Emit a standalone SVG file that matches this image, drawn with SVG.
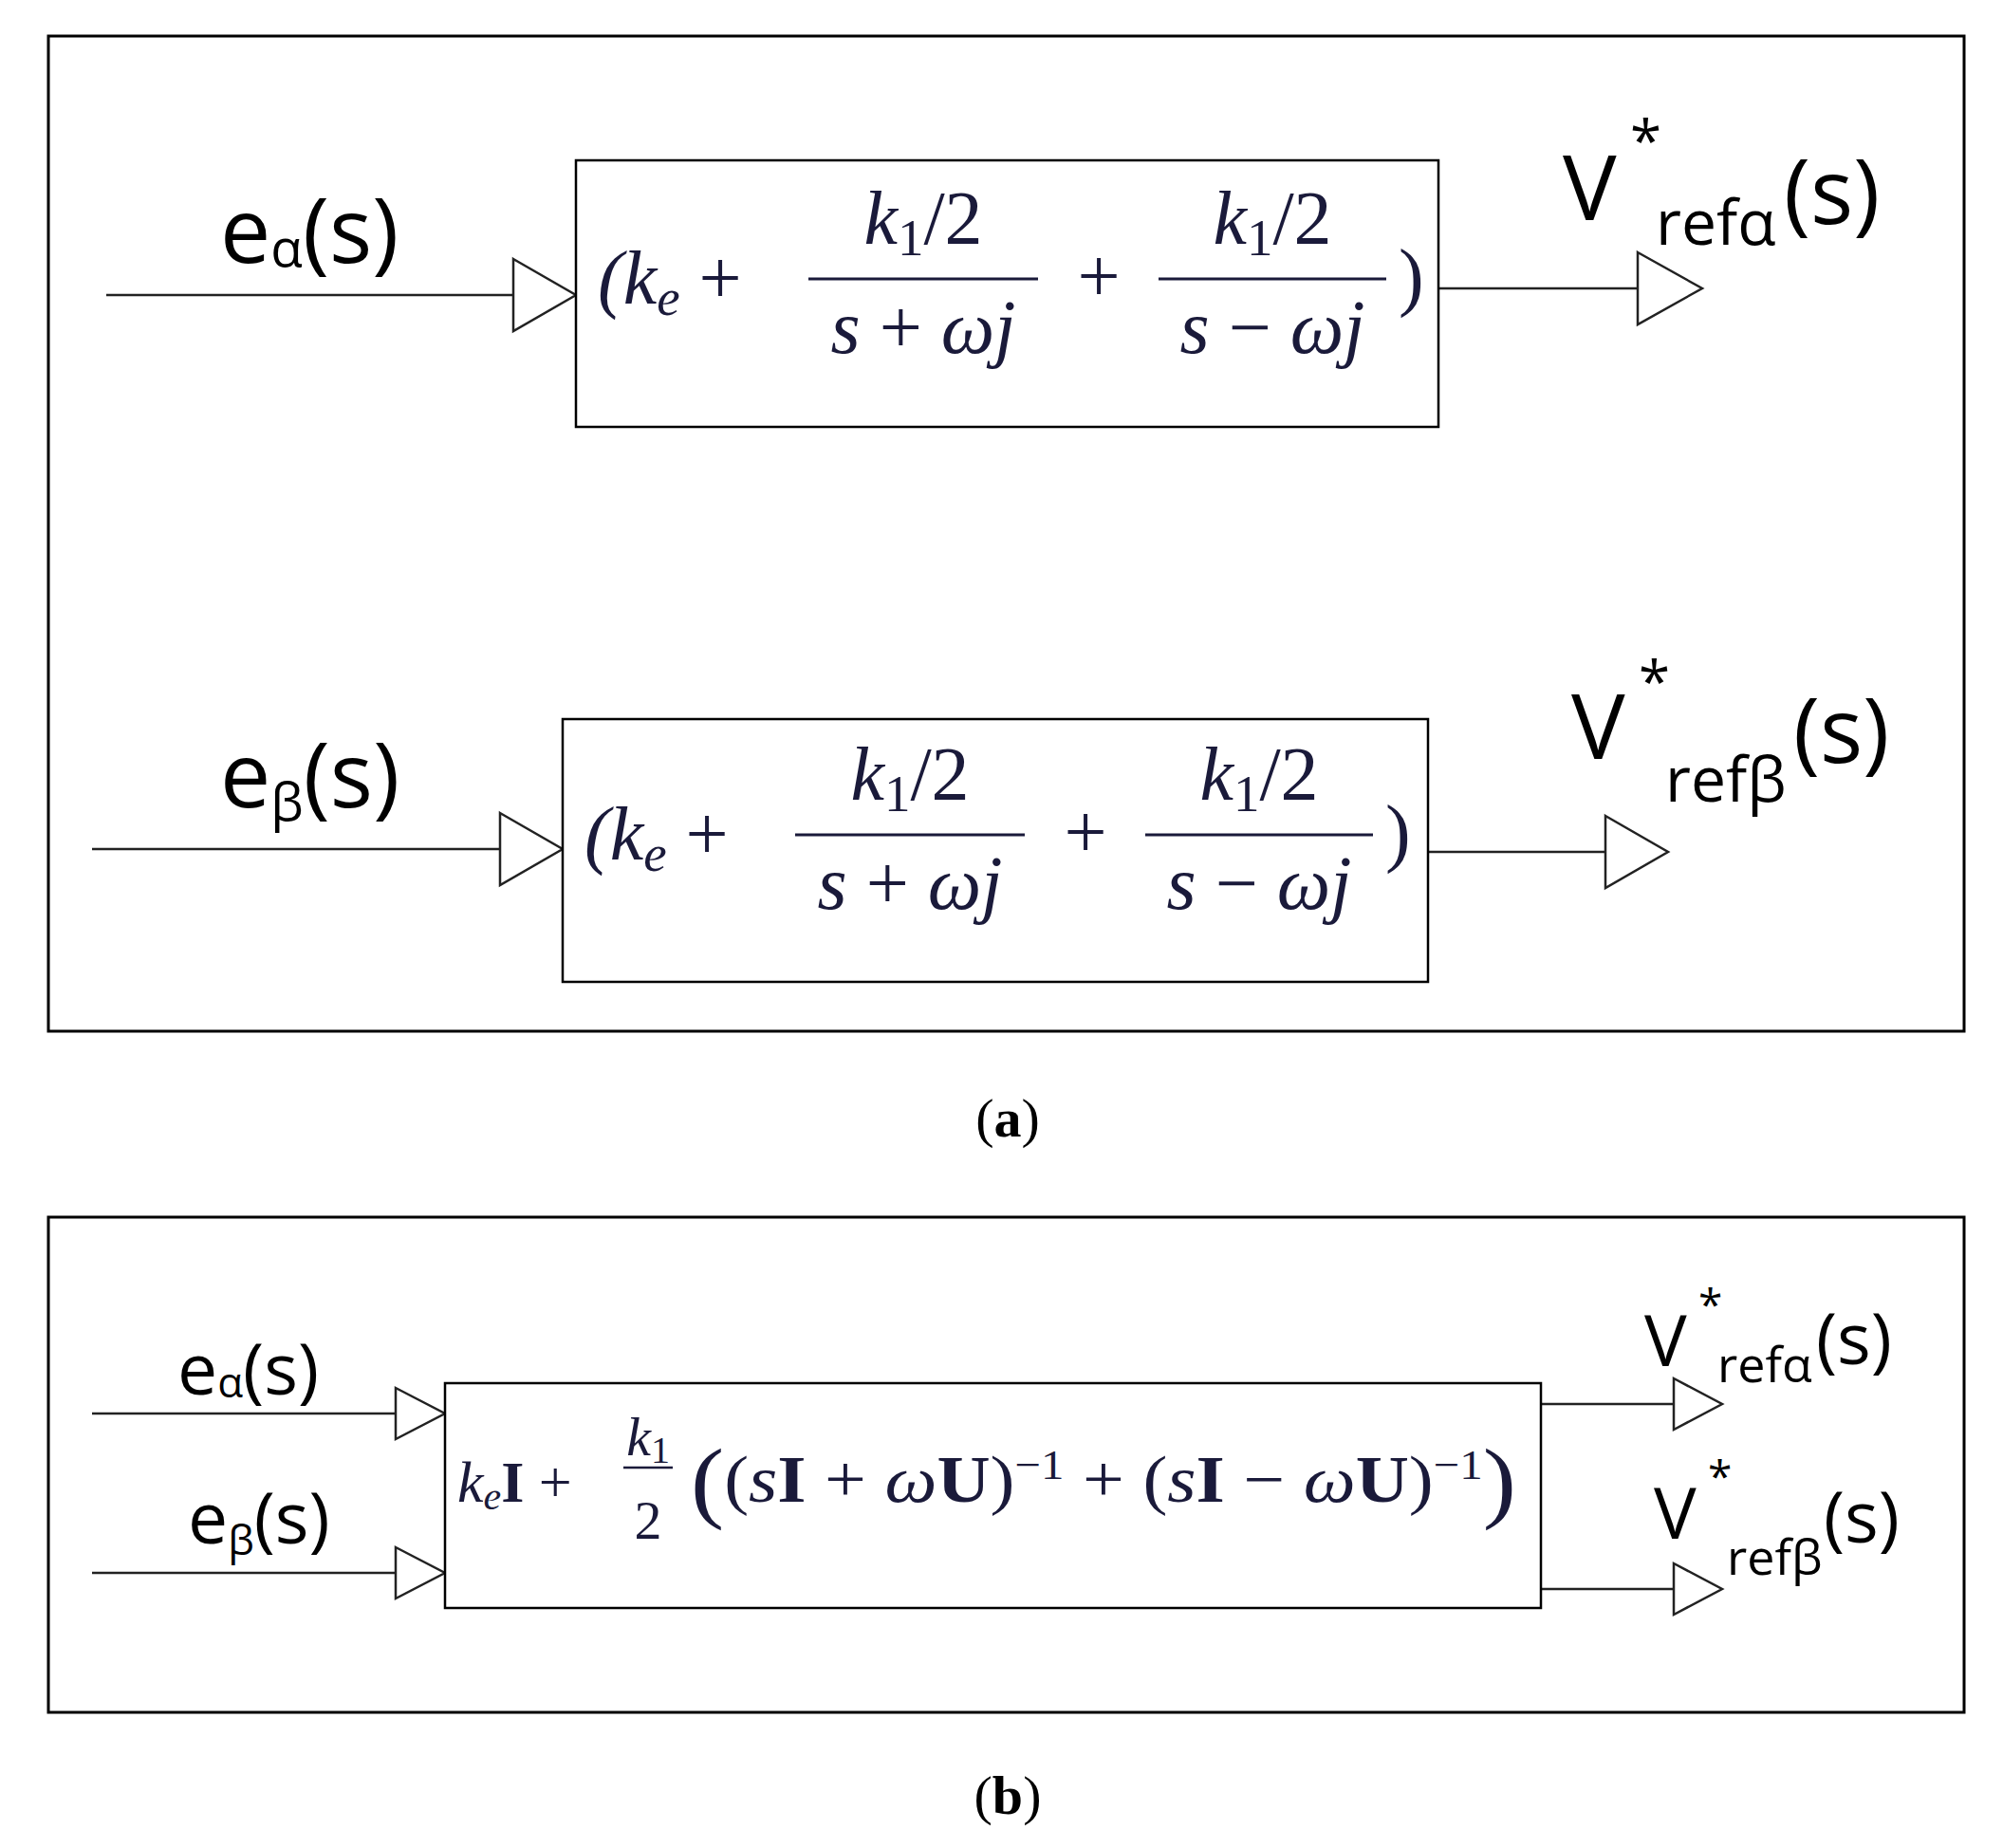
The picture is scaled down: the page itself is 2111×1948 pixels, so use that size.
<svg xmlns="http://www.w3.org/2000/svg" width="2111" height="1948" viewBox="0 0 2111 1948">
<style>
.frame{fill:none;stroke:#000;stroke-width:3}
.blk{fill:#fff;stroke:#000;stroke-width:2.5}
.ln{stroke:#222;stroke-width:2.5;fill:none}
.ar{fill:#fff;stroke:#222;stroke-width:2.5}
.lab{font-family:"Open Sans","DejaVu Sans",sans-serif;fill:#000}
.m{font-family:"Liberation Serif","DejaVu Serif",serif;fill:#1a1a3a}
.cap{font-family:"Liberation Serif",serif;font-size:58px;fill:#000}
</style>
<rect class="frame" x="51" y="38" width="2019" height="1049"/>
<rect class="frame" x="51" y="1283" width="2019" height="522"/>
<g id="connectors">
<line class="ln" x1="112" y1="311" x2="541" y2="311"/><polygon class="ar" points="541,273 607,311 541,349"/>
<line class="ln" x1="1516" y1="304" x2="1726" y2="304"/><polygon class="ar" points="1726,266 1794,304 1726,342"/>
<line class="ln" x1="97" y1="895" x2="527" y2="895"/><polygon class="ar" points="527,857 593,895 527,933"/>
<line class="ln" x1="1505" y1="898" x2="1692" y2="898"/><polygon class="ar" points="1692,860 1758,898 1692,936"/>
<line class="ln" x1="97" y1="1490" x2="417" y2="1490"/><polygon class="ar" points="417,1463 469,1490 417,1517"/>
<line class="ln" x1="97" y1="1658" x2="417" y2="1658"/><polygon class="ar" points="417,1631 469,1658 417,1685"/>
<line class="ln" x1="1624" y1="1480" x2="1764" y2="1480"/><polygon class="ar" points="1764,1453 1815,1480 1764,1507"/>
<line class="ln" x1="1624" y1="1675" x2="1764" y2="1675"/><polygon class="ar" points="1764,1648 1815,1675 1764,1702"/>
</g>
<g id="block-a1">
<rect class="blk" x="607" y="169" width="909" height="281"/>
<text class="m" font-size="80" x="630" y="320" font-style="italic">(k<tspan font-size="55" dy="12">e</tspan><tspan dy="-12" font-style="normal"> +</tspan></text>
<text class="m" font-size="80" x="973" y="257" text-anchor="middle" font-style="italic">k<tspan font-size="55" dy="12" font-style="normal">1</tspan><tspan dy="-12" font-style="normal">/2</tspan></text>
<line x1="852" y1="294" x2="1094" y2="294" stroke="#1a1a3a" stroke-width="3"/>
<text class="m" font-size="80" x="973" y="372" text-anchor="middle" font-style="italic">s <tspan font-style="normal">+</tspan> ωj</text>
<text class="m" font-size="80" x="1158" y="318" text-anchor="middle">+</text>
<text class="m" font-size="80" x="1341" y="257" text-anchor="middle" font-style="italic">k<tspan font-size="55" dy="12" font-style="normal">1</tspan><tspan dy="-12" font-style="normal">/2</tspan></text>
<line x1="1221" y1="294" x2="1461" y2="294" stroke="#1a1a3a" stroke-width="3"/>
<text class="m" font-size="80" x="1341" y="372" text-anchor="middle" font-style="italic">s <tspan font-style="normal">−</tspan> ωj</text>
<text class="m" font-size="80" x="1474" y="318">)</text>
</g>
<g id="block-a2" transform="translate(-14,586)">
<rect class="blk" x="607" y="172" width="912" height="277"/>
<text class="m" font-size="80" x="630" y="320" font-style="italic">(k<tspan font-size="55" dy="12">e</tspan><tspan dy="-12" font-style="normal"> +</tspan></text>
<text class="m" font-size="80" x="973" y="257" text-anchor="middle" font-style="italic">k<tspan font-size="55" dy="12" font-style="normal">1</tspan><tspan dy="-12" font-style="normal">/2</tspan></text>
<line x1="852" y1="294" x2="1094" y2="294" stroke="#1a1a3a" stroke-width="3"/>
<text class="m" font-size="80" x="973" y="372" text-anchor="middle" font-style="italic">s <tspan font-style="normal">+</tspan> ωj</text>
<text class="m" font-size="80" x="1158" y="318" text-anchor="middle">+</text>
<text class="m" font-size="80" x="1341" y="257" text-anchor="middle" font-style="italic">k<tspan font-size="55" dy="12" font-style="normal">1</tspan><tspan dy="-12" font-style="normal">/2</tspan></text>
<line x1="1221" y1="294" x2="1461" y2="294" stroke="#1a1a3a" stroke-width="3"/>
<text class="m" font-size="80" x="1341" y="372" text-anchor="middle" font-style="italic">s <tspan font-style="normal">−</tspan> ωj</text>
<text class="m" font-size="80" x="1474" y="318">)</text>
</g>
<g id="labels-a">
<text class="lab" font-size="95" x="232" y="277">e<tspan font-size="55" dy="4">α</tspan><tspan dy="-4">(s)</tspan></text>
<text class="lab" font-size="95" x="1647" y="232">V</text>
<text class="lab" font-size="60" x="1718" y="170">*</text>
<text class="lab" font-size="66" x="1745" y="258">refα</text>
<text class="lab" font-size="95" x="1880" y="236">(s)</text>
<text class="lab" font-size="95" x="232" y="851">e<tspan font-size="55" dy="14">β</tspan><tspan dy="-14">(s)</tspan></text>
<text class="lab" font-size="95" x="1656" y="800">V</text>
<text class="lab" font-size="60" x="1727" y="740">*</text>
<text class="lab" font-size="66" x="1755" y="845">refβ</text>
<text class="lab" font-size="95" x="1890" y="804">(s)</text>
</g>
<text class="cap" x="1062" y="1198" text-anchor="middle">(<tspan font-weight="bold">a</tspan>)</text>
<g id="block-b">
<rect class="blk" x="469" y="1458" width="1155" height="237"/>
<text class="m" font-size="62" x="482" y="1583" font-style="italic">k<tspan font-size="42" dy="8">e</tspan><tspan dy="-8" font-style="normal" font-weight="bold">I</tspan><tspan font-style="normal"> +</tspan></text>
<text class="m" font-size="58" x="683" y="1534" text-anchor="middle" font-style="italic">k<tspan font-size="40" dy="8" font-style="normal">1</tspan></text>
<line x1="657" y1="1547" x2="709" y2="1547" stroke="#1a1a3a" stroke-width="2.5"/>
<text class="m" font-size="58" x="683" y="1622" text-anchor="middle">2</text>
<text class="m" font-size="70" x="728" y="1583" textLength="870" lengthAdjust="spacingAndGlyphs"><tspan font-size="95" dy="10">(</tspan><tspan dy="-10">(</tspan><tspan font-style="italic">s</tspan><tspan font-weight="bold">I</tspan> + <tspan font-style="italic">ω</tspan><tspan font-weight="bold">U</tspan>)<tspan font-size="44" dy="-24">−1</tspan><tspan dy="24"> + (</tspan><tspan font-style="italic">s</tspan><tspan font-weight="bold">I</tspan> − <tspan font-style="italic">ω</tspan><tspan font-weight="bold">U</tspan>)<tspan font-size="44" dy="-24">−1</tspan><tspan font-size="95" dy="34">)</tspan></text>
</g>
<g id="labels-b">
<text class="lab" font-size="75" x="187" y="1470">e<tspan font-size="44" dy="3">α</tspan><tspan dy="-3">(s)</tspan></text>
<text class="lab" font-size="75" x="198" y="1627">e<tspan font-size="44" dy="12">β</tspan><tspan dy="-12">(s)</tspan></text>
<text class="lab" font-size="75" x="1733" y="1440">V</text>
<text class="lab" font-size="46" x="1790" y="1392">*</text>
<text class="lab" font-size="52" x="1810" y="1457">refα</text>
<text class="lab" font-size="75" x="1914" y="1438">(s)</text>
<text class="lab" font-size="75" x="1743" y="1622">V</text>
<text class="lab" font-size="46" x="1800" y="1573">*</text>
<text class="lab" font-size="52" x="1820" y="1660">refβ</text>
<text class="lab" font-size="75" x="1922" y="1626">(s)</text>
</g>
<text class="cap" x="1062" y="1912" text-anchor="middle">(<tspan font-weight="bold">b</tspan>)</text>
</svg>
